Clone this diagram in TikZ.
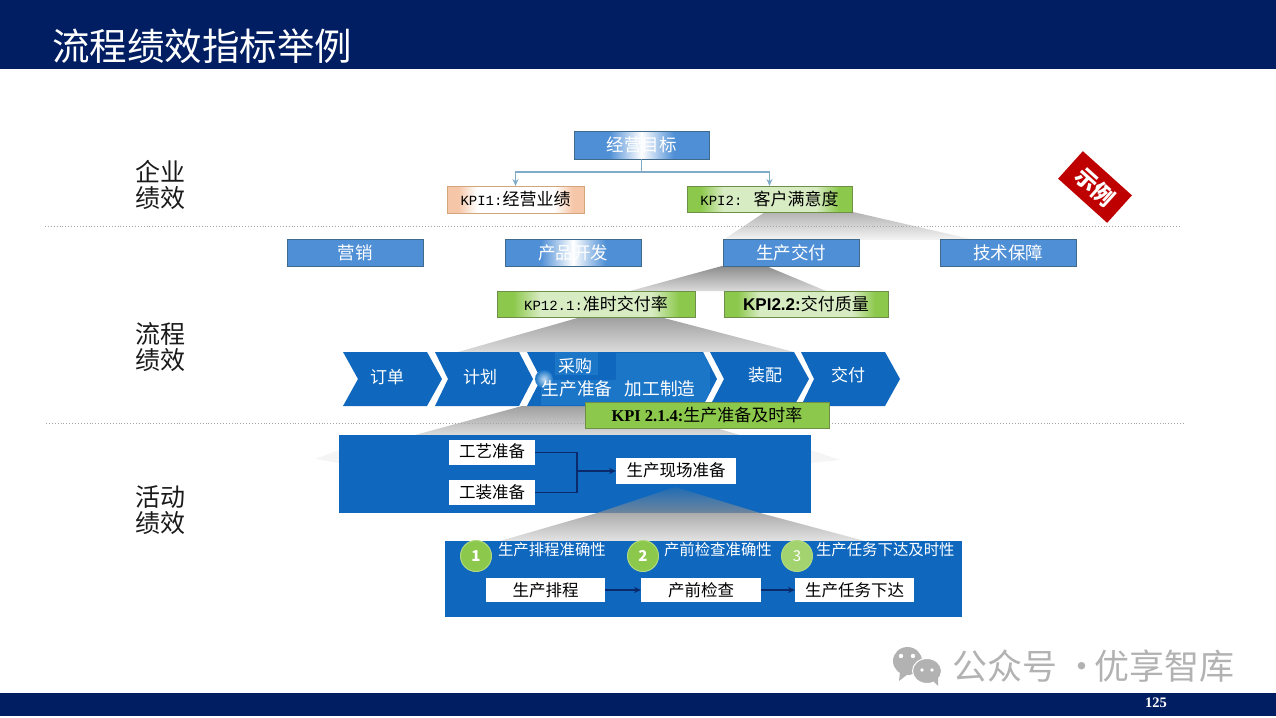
\documentclass[tikz,border=0pt]{standalone}
\usepackage{fontspec}
\setmainfont{Noto Sans CJK SC}
\newfontfamily\monof{Liberation Mono}
\newfontfamily\serf{Liberation Serif}
\newfontfamily\sanf{Liberation Sans}
\usetikzlibrary{arrows.meta}
\definecolor{navy}{HTML}{011E62}
\definecolor{flow}{HTML}{0F68BE}
\definecolor{flowlt}{HTML}{2A84D0}
\definecolor{flowmd}{HTML}{1C76C7}
\definecolor{boxblue}{HTML}{4F8FD6}
\definecolor{boxedge}{HTML}{3F6A8C}
\definecolor{kgreen}{HTML}{8CC84B}
\definecolor{kpale}{HTML}{D8ECC4}
\definecolor{kedge}{HTML}{6E8F48}
\definecolor{peach}{HTML}{F6C6A8}
\definecolor{dark}{HTML}{1A1A1A}
\definecolor{wire}{HTML}{0B2A6B}
\definecolor{tree}{HTML}{7FAAC8}
\pgfdeclarehorizontalshading{kshade}{100bp}{color(0bp)=(kgreen); color(29bp)=(kgreen); color(36bp)=(kpale); color(64bp)=(kpale); color(71bp)=(kgreen); color(100bp)=(kgreen)}
\pgfdeclarehorizontalshading{pshade}{100bp}{color(0bp)=(peach); color(29bp)=(peach); color(36bp)=(white); color(64bp)=(white); color(71bp)=(peach); color(100bp)=(peach)}
\pgfdeclarehorizontalshading{gsmear}{100bp}{color(0bp)=(boxblue); color(25bp)=(boxblue); color(38bp)=(boxblue); color(50bp)=(white); color(62bp)=(boxblue); color(75bp)=(boxblue); color(100bp)=(boxblue)}
\newcommand{\fs}[1]{\fontsize{#1}{#1}\selectfont}
\tikzset{
  base/.style={inner sep=0pt,outer sep=0pt,align=center},
  bluebox/.style={base,draw=boxedge,line width=1pt,fill=boxblue,text=white,minimum width=136pt,minimum height=27pt,font=\fs{17.5}},
  smearbox/.style={bluebox,fill=none,shade,shading=gsmear},
  greenbox/.style={base,draw=kedge,line width=1pt,shade,shading=kshade,text=black,minimum height=26pt,font=\fs{17}},
  peachbox/.style={base,draw=brown!70,line width=1pt,shade,shading=pshade,text=black,minimum height=27pt,font=\fs{17}},
  whitebox/.style={base,fill=white,text=black,font=\fs{16.5}},
  flowtext/.style={base,text=white,font=\fs{17}},
  sidetext/.style={base,text=dark,font=\fs{25},align=left},
  kpitext/.style={base,text=white,font=\fs{15.4}},
  funnel/.style={top color=#1,bottom color=gray!28},
  dotline/.style={gray!70,line width=0.9pt,dotted},
  wireline/.style={wire,line width=1.3pt},
  treeline/.style={tree,line width=1.4pt},
  tip/.style={-{Stealth[length=7pt,width=6pt]}},
  num/.style={base,circle,minimum size=31pt,fill=kgreen,draw=kgreen!70!white,line width=1pt,text=white,font=\fs{15}\bfseries},
}
\begin{document}
\begin{tikzpicture}[x=1pt,y=-1pt]
\useasboundingbox (0,0) rectangle (1276,717);
% bars
\fill[navy] (0,0) rectangle (1276,69);
\fill[navy] (0,693) rectangle (1276,716);
\node[base,anchor=west,text=white,font=\fs{37.5}] (title) at (52,46) {流程绩效指标举例};
\node[base,text=white,font=\serf\fs{14.5}\bfseries] (page) at (1156,703) {125};
% funnels
\shade[top color=gray!60,bottom color=gray!8] (765,212) -- (853,212) -- (975,240) -- (723,240) -- cycle;
\shade[funnel=gray!90] (722,266) -- (766,266) -- (826,291) -- (630,291) -- cycle;
\shade[funnel=gray!75] (581,317) -- (660,317) -- (794,352) -- (458,352) -- cycle;
\shade[funnel=gray!75] (522,406) -- (640,406) -- (740,435) -- (415,435) -- cycle;
\fill[gray!8] (315,459) -- (339,450) -- (339,463) -- cycle;
\fill[gray!8] (811,450) -- (840,460) -- (811,463) -- cycle;
% separators
\draw[dotline] (45,226) -- (1181,226);
\draw[dotline] (46,423) -- (1183,423);
% side labels
\node[sidetext] (s1) at (160,185) {企业\\[0.5pt]绩效};
\node[sidetext] (s2) at (160,347) {流程\\[0.5pt]绩效};
\node[sidetext] (s3) at (160,510) {活动\\[0.5pt]绩效};
% top level
\node[smearbox,minimum width=135pt,minimum height=28pt] (goal) at (641.5,145) {\raisebox{-2.5pt}{经营目标}};
\node[peachbox,minimum width=137pt] (k1) at (515.5,199.5) {{\monof\fs{14}KPI1:}经营业绩};
\node[greenbox,minimum width=165pt] (k2) at (769.5,199) {{\monof\fs{14}KPI2: }客户满意度};
\coordinate (branch) at (641.5,172);
\draw[treeline] (goal.south) -- (branch);
\draw[treeline,tip] (branch) -| (k1.north);
\draw[treeline,tip] (branch) -| (k2.north);
% processes
\node[bluebox] (p1) at (355,252.5) {营销};
\node[smearbox] (p2) at (573,252.5) {产品开发};
\node[bluebox] (p3) at (791,252.5) {生产交付};
\node[bluebox] (p4) at (1008,252.5) {\raisebox{-2pt}{技术保障}};
\node[greenbox,minimum width=198pt] (k21) at (596,304) {{\monof\fs{14}KP12.1:}准时交付率};
\node[greenbox,minimum width=164pt] (k22) at (806,304) {{\sanf\bfseries KPI2.2:}交付质量};
% chevrons
\fill[flow] (343,352) -- (427,352) -- (442,379) -- (427,406) -- (343,406) -- (358,379) -- cycle;
\fill[flow] (435,352) -- (519,352) -- (533,379) -- (519,406) -- (435,406) -- (448,379) -- cycle;
\fill[flow] (527,352) -- (703,352) -- (717,379) -- (703,406) -- (527,406) -- (541,379) -- cycle;
\fill[flow] (710,352) -- (794,352) -- (809,379) -- (794,406) -- (710,406) -- (724,379) -- cycle;
\fill[flow] (801,352) -- (885,352) -- (900,379) -- (885,406) -- (801,406) -- (814,379) -- cycle;
\fill[flowmd] (616,353) -- (703,353) -- (710,366) -- (710,392) -- (703,405) -- (541,405) -- (541,380) -- (616,380) -- cycle;
\fill[flowmd] (555,352) rectangle (598,375);
\shade[inner color=flowlt!30!white,outer color=flowmd] (544,379) ellipse (9pt and 9pt);
\node[flowtext] (c1) at (387,377) {订单};
\node[flowtext] (c2) at (480,377) {计划};
\node[flowtext] (c3) at (575,366) {采购};
\node[flowtext,font=\fs{17.7}] (c4) at (577,389) {生产准备};
\node[flowtext,font=\fs{17.7}] (c5) at (660,389) {加工制造};
\node[flowtext] (c6) at (765,375) {装配};
\node[flowtext] (c7) at (848,375) {交付};
\node[base,draw=kedge,line width=1pt,fill=kgreen,text=black,minimum width=244pt,minimum height=26pt,font=\fs{17}] (k214) at (707,415) {{\serf\bfseries\fs{16.5}KPI 2.1.4:}生产准备及时率};
% activity box 1
\fill[flow] (339,435) rectangle (811,513);
\shade[top color=flow!85!gray,bottom color=flow!30!gray!90] (675,487) -- (597,513) -- (760,513) -- cycle;
\node[whitebox,minimum width=86pt,minimum height=25pt] (a1) at (492,452.5) {\raisebox{3pt}{工艺准备}};
\node[whitebox,minimum width=86pt,minimum height=25pt] (a2) at (492,492.5) {工装准备};
\node[whitebox,minimum width=120pt,minimum height=26pt] (a3) at (676,471) {\raisebox{2.5pt}{生产现场准备}};
\coordinate (join) at (577,471);
\draw[wireline] (a1.east) -| (join);
\draw[wireline] (a2.east) -| (join);
\draw[wireline,tip] (join) -- (a3.west);
% activity box 2
\shade[top color=gray!65,bottom color=gray!22] (597,513) -- (760,513) -- (865,541) -- (500,541) -- cycle;
\fill[flow] (445,541) rectangle (962,617);
\node[whitebox,minimum width=119pt,minimum height=24pt] (b1) at (545.5,590) {生产排程};
\node[whitebox,minimum width=120pt,minimum height=24pt] (b2) at (701,590) {产前检查};
\node[whitebox,minimum width=119pt,minimum height=24pt] (b3) at (854.5,590) {生产任务下达};
\draw[wireline,tip] (b1) -- (b2);
\draw[wireline,tip] (b2) -- (b3);
\node[num] (n1) at (476,556) {1};
\node[num] (n2) at (643,556) {2};
\node[num,font=\fs{15},fill=kgreen!80!white] (n3) at (797,556) {3};
\node[kpitext,anchor=west] (t1) at (498,550) {生产排程准确性};
\node[kpitext,anchor=west] (t2) at (664,550) {产前检查准确性};
\node[kpitext,anchor=west] (t3) at (816,550) {生产任务下达及时性};
% stamp
\node[base,rotate=-42,fill=red!75!black,text=white,minimum width=66pt,minimum height=37pt,font=\fs{22}\bfseries] (stamp) at (1095,187) {示例};
% watermark
\fill[gray!60] (907.5,661) ellipse (14.5pt and 14pt);
\fill[gray!60] (900,672) -- (899,681) -- (908,674) -- cycle;
\fill[gray!60,draw=white,line width=1pt] (927,671) ellipse (14.5pt and 12.5pt);
\fill[gray!60] (933,681) -- (938,686) -- (938,677) -- cycle;
\fill[white] (901,656) circle (2.2pt) (913,656) circle (2.2pt) (922,670) circle (1.9pt) (932,670) circle (1.9pt);
\node[base,anchor=west,text=gray!60,font=\fs{35}] (wm) at (952,666) {公众号 ·\hspace{-5pt}优享智库};
\end{tikzpicture}
\end{document}
